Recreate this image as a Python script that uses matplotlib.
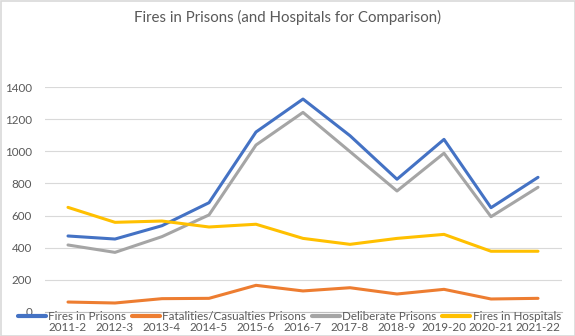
import matplotlib.pyplot as plt
from matplotlib.patches import Rectangle

# fire counts per financial year
years = ['2011-2', '2012-3', '2013-4', '2014-5', '2015-6', '2016-7',
         '2017-8', '2018-9', '2019-20', '2020-21', '2021-22']
fires_prisons = [473, 454, 537, 680, 1120, 1325, 1097, 826, 1074, 649, 838]
casualties_prisons = [62, 56, 83, 85, 166, 131, 151, 112, 141, 81, 85]
deliberate_prisons = [417, 371, 469, 604, 1039, 1242, 998, 753, 988, 593, 776]
fires_hospitals = [651, 558, 566, 529, 546, 458, 421, 458, 483, 378, 378]

series = [
    ('Fires in Prisons', fires_prisons, '#4472C4'),
    ('Fatalities/Casualties Prisons', casualties_prisons, '#ED7D31'),
    ('Deliberate Prisons', deliberate_prisons, '#A5A5A5'),
    ('Fires in Hospitals', fires_hospitals, '#FFC000'),
]

plt.rcParams['font.family'] = ['Lato', 'DejaVu Sans']
text_col = '#595959'
fs = 8.4

fig = plt.figure(figsize=(5.75, 3.36), dpi=100)
ax = fig.add_axes([44.5 / 575, 1 - 312 / 336, 517 / 575, 225 / 336])

x = range(len(years))
handles = []
for name, vals, col in series:
    h, = ax.plot(x, vals, color=col, lw=2.2, solid_capstyle='round',
                 solid_joinstyle='round', label=name)
    handles.append(h)

ax.set_xlim(-0.5, len(years) - 0.5)
ax.set_ylim(0, 1400)
ax.set_yticks(range(0, 1401, 200))
ax.set_xticks(list(x))
ax.set_xticklabels(years)
ax.grid(axis='y', color='#D9D9D9', lw=0.8)
ax.set_axisbelow(True)
for s in ['top', 'right', 'left']:
    ax.spines[s].set_visible(False)
ax.spines['bottom'].set_color('#BFBFBF')
ax.spines['bottom'].set_linewidth(0.8)
ax.tick_params(axis='x', length=0, pad=7.5, labelsize=fs, labelcolor=text_col)
ax.tick_params(axis='y', length=0, pad=9, labelsize=fs, labelcolor=text_col)

fig.text(0.5, 1 - 17 / 336, 'Fires in Prisons (and Hospitals for Comparison)',
         ha='center', va='center', fontsize=10.8, color=text_col)

leg = fig.legend(handles=handles, loc='center', ncol=4, frameon=False,
                 bbox_to_anchor=(0.503, 1 - 317 / 336), fontsize=fs,
                 handlelength=2.4, handletextpad=0.2, columnspacing=0.5,
                 borderpad=0)
for t in leg.get_texts():
    t.set_color(text_col)
for line in leg.get_lines():
    line.set_linewidth(3)

# chart border
fig.patches.append(Rectangle((0.5 / 575, 0), 1 - 1 / 575, 1 - 1 / 336,
                             transform=fig.transFigure, fill=False,
                             edgecolor='#D9D9D9', lw=1.2))

fig.savefig('out.png', dpi=100)
